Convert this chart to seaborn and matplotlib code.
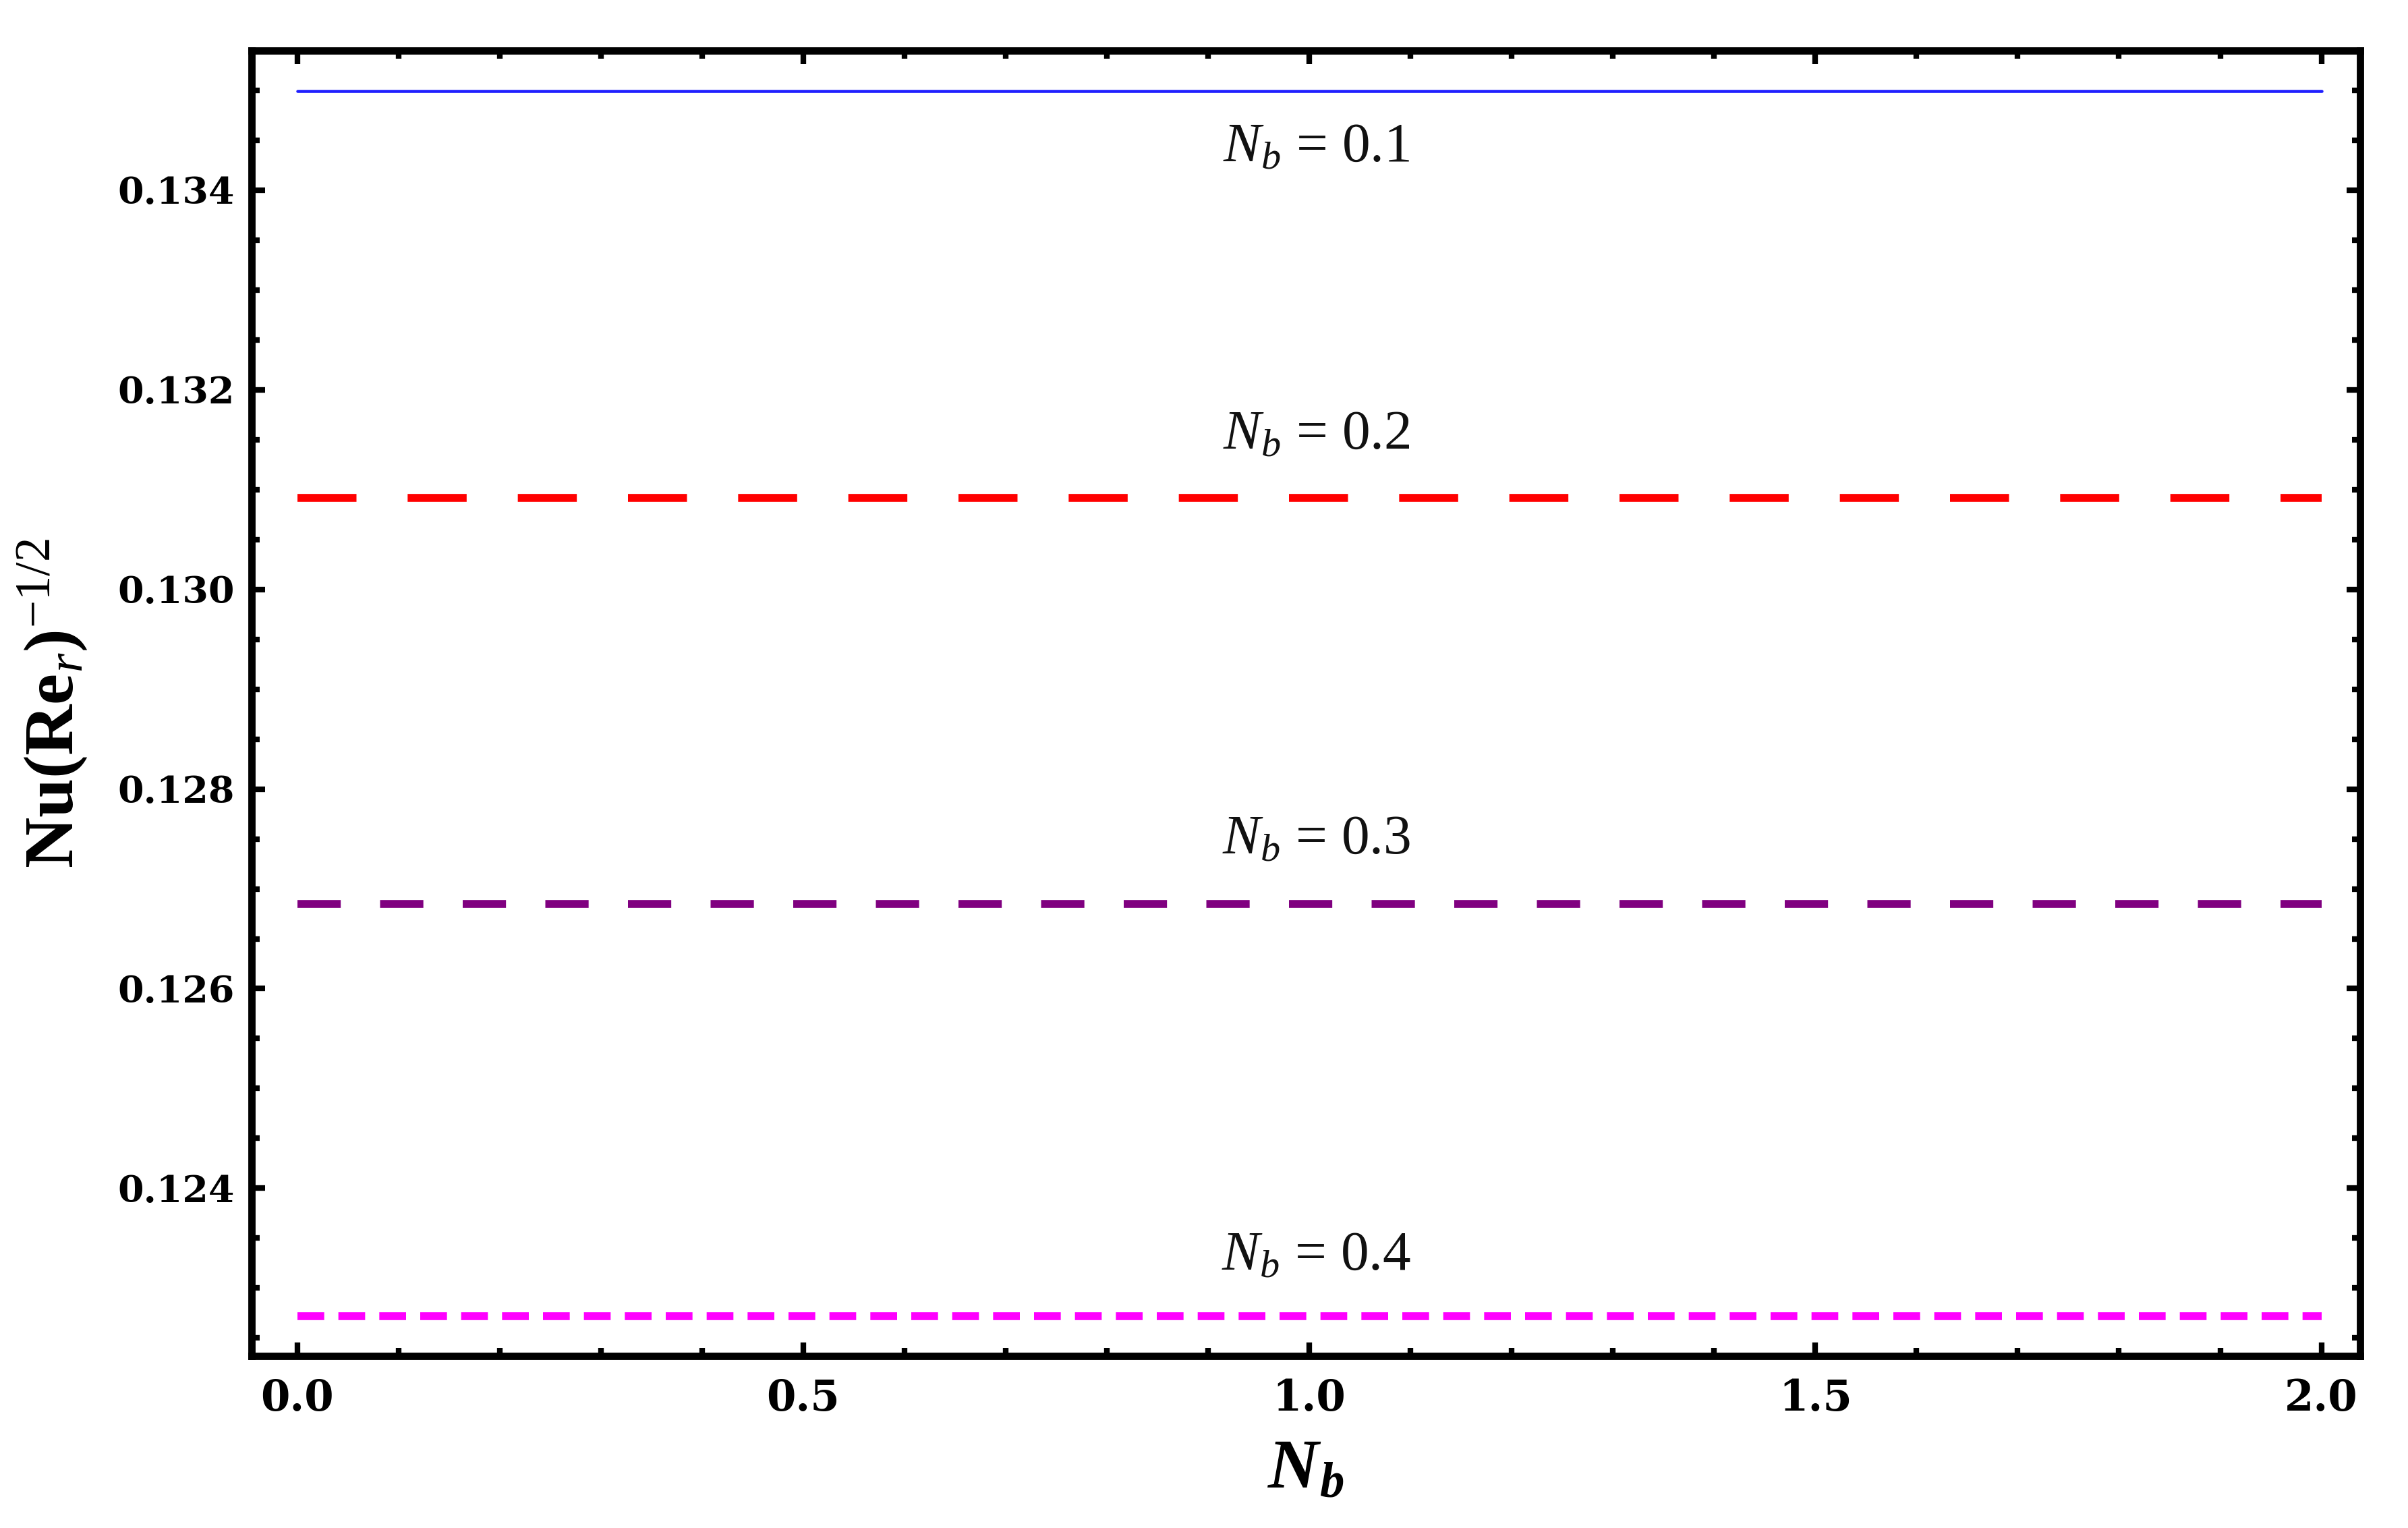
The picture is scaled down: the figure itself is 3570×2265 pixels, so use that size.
import numpy as np
import pandas as pd
import matplotlib
matplotlib.use('Agg')
import matplotlib.pyplot as plt
import seaborn as sns
from matplotlib.ticker import MultipleLocator, FormatStrFormatter

# data
nb_x = [0.0, 2.0]
nb_levels = ['0.1', '0.2', '0.3', '0.4']
nu_values = [0.13499, 0.13092, 0.12685, 0.12272]
label_y = [0.13442, 0.13154, 0.12749, 0.12332]
line_colors = ['#1f1fff', '#ff0000', '#800080', '#ff00ff']
line_styles = ['-', (0, (7.5, 6.5)), (0, (5.5, 5.0)), (0, (3.4, 1.8))]
line_widths = [1.1, 2.8, 2.8, 2.8]

rows = []
for lvl, val in zip(nb_levels, nu_values):
    for xv in nb_x:
        rows.append({'Nb': xv, 'Nu': val, 'level': lvl})
df = pd.DataFrame(rows)

sns.set_style('ticks')
plt.rcParams['font.family'] = ['Liberation Serif', 'DejaVu Serif']
plt.rcParams['mathtext.fontset'] = 'custom'
plt.rcParams['mathtext.rm'] = 'Liberation Serif'
plt.rcParams['mathtext.it'] = 'Liberation Serif:italic'
plt.rcParams['mathtext.bf'] = 'Liberation Serif:bold'
plt.rcParams['mathtext.bfit'] = 'Liberation Serif:italic:bold'
plt.rcParams['text.color'] = 'black'
plt.rcParams['axes.labelcolor'] = 'black'
plt.rcParams['xtick.color'] = 'black'
plt.rcParams['ytick.color'] = 'black'

fig = plt.figure(figsize=(11.9, 7.55), dpi=300)
ax = fig.add_axes([0.1045, 0.1126, 0.8755, 0.8544])

for lvl, col, ls, lw in zip(nb_levels, line_colors, line_styles, line_widths):
    sub = df[df['level'] == lvl]
    sns.lineplot(data=sub, x='Nb', y='Nu', ax=ax, color=col, linestyle=ls,
                 linewidth=lw, legend=False)

for lvl, yv in zip(nb_levels, label_y):
    ax.text(1.007, yv, r'$N_b$ = ' + lvl, ha='center', va='center',
            fontsize=20, color='#111111')

ax.set_xlim(-0.045, 2.038)
ax.set_ylim(0.12232, 0.13540)
ax.xaxis.set_major_locator(MultipleLocator(0.5))
ax.xaxis.set_minor_locator(MultipleLocator(0.1))
ax.yaxis.set_major_locator(MultipleLocator(0.002))
ax.yaxis.set_minor_locator(MultipleLocator(0.0005))
ax.xaxis.set_major_formatter(FormatStrFormatter('%.1f'))
ax.yaxis.set_major_formatter(FormatStrFormatter('%.3f'))

for sp in ax.spines.values():
    sp.set_visible(True)
    sp.set_linewidth(2.6)
    sp.set_color('black')
ax.tick_params(which='both', direction='in', top=True, right=True,
               width=2.0, color='black', labelcolor='black')
ax.tick_params(which='major', length=4.8)
ax.tick_params(which='minor', length=2.8)
ax.tick_params(axis='x', which='major', pad=8)
ax.tick_params(axis='y', which='major', pad=6)
for lab in ax.get_xticklabels():
    lab.set_fontfamily('DejaVu Serif')
    lab.set_fontweight('bold')
    lab.set_fontsize(15)
for lab in ax.get_yticklabels():
    lab.set_fontfamily('DejaVu Serif')
    lab.set_fontweight('bold')
    lab.set_fontsize(13.3)

ax.set_xlabel(r'$\mathbfit{N}_{\mathbfit{b}}$', fontsize=25, labelpad=7)
ax.set_ylabel(r'$\mathbf{Nu(Re}_{\mathit{r}}\mathbf{)}^{-1/2}$', fontsize=25, labelpad=10)
ax.grid(False)

fig.savefig('out.png', dpi=300, facecolor='white')
